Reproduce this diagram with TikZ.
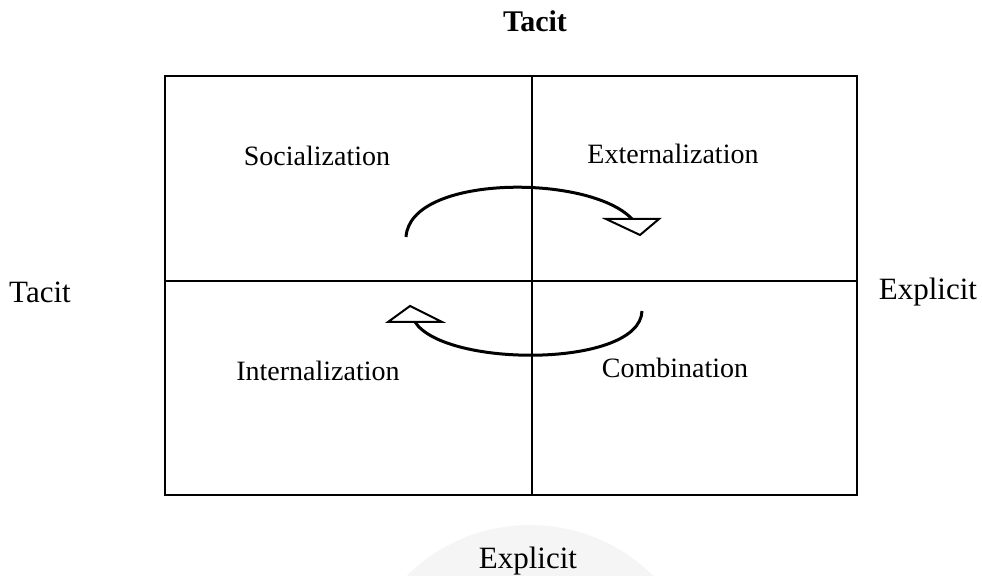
\documentclass[tikz,border=0pt]{standalone}
\usepackage{fontspec}
\setmainfont{Liberation Serif}
\begin{document}
\begin{tikzpicture}[x=0.5pt,y=-0.5pt,
    quad/.style={anchor=base,font=\fontsize{14}{16}\selectfont},
    axis/.style={anchor=base,font=\fontsize{15.5}{18}\selectfont},
    cyc/.style={line width=1.5pt},
    tip/.style={draw,fill=white,line width=1pt,line join=miter}]
      \useasboundingbox (0,0) rectangle (982,576);
      \begin{scope}
        \clip (0,500) rectangle (982,576);
        \fill[black!4] (530,700) circle (175);
      \end{scope}

      \coordinate (nw) at (165,76);
      \coordinate (se) at (857,495);
      \coordinate (top) at (532,76);
      \coordinate (bot) at (532,495);
      \coordinate (lft) at (165,281);
      \coordinate (rgt) at (857,281);
      \draw[line width=1pt] (nw) rectangle (se);
      \draw[line width=1pt] (top) -- (bot);
      \draw[line width=1pt] (lft) -- (rgt);

      \node[axis,font=\fontsize{15}{18}\selectfont\bfseries] (tacittop) at (535,32) {Tacit};
      \node[axis] (tacitleft) at (40,303) {Tacit};
      \node[axis] (explright) at (928,300) {Explicit};
      \node[axis] (explbot) at (528,569) {Explicit};

      \node[quad] (soc) at (317,166) {Socialization};
      \node[quad] (ext) at (673,164) {Externalization};
      \node[quad] (int) at (318,381) {Internalization};
      \node[quad] (com) at (675,378) {Combination};

      % upper cycle
      \coordinate (up1) at (406,237);
      \coordinate (up2) at (632,219);
      \draw[cyc] (up1) .. controls (410,174) and (590,174) .. (up2);
      \coordinate (ua) at (606,219);
      \coordinate (ub) at (659,219);
      \coordinate (uc) at (640,235);
      \draw[tip] (ua) -- (ub) -- (uc) -- cycle;

      % lower cycle
      \coordinate (lo1) at (642,311);
      \coordinate (lo2) at (415,322);
      \draw[cyc] (lo1) .. controls (640,368) and (445,368) .. (lo2);
      \coordinate (la) at (388,322);
      \coordinate (lb) at (442,322);
      \coordinate (lc) at (410,306);
      \draw[tip] (la) -- (lb) -- (lc) -- cycle;
    \end{tikzpicture}
\end{document}
